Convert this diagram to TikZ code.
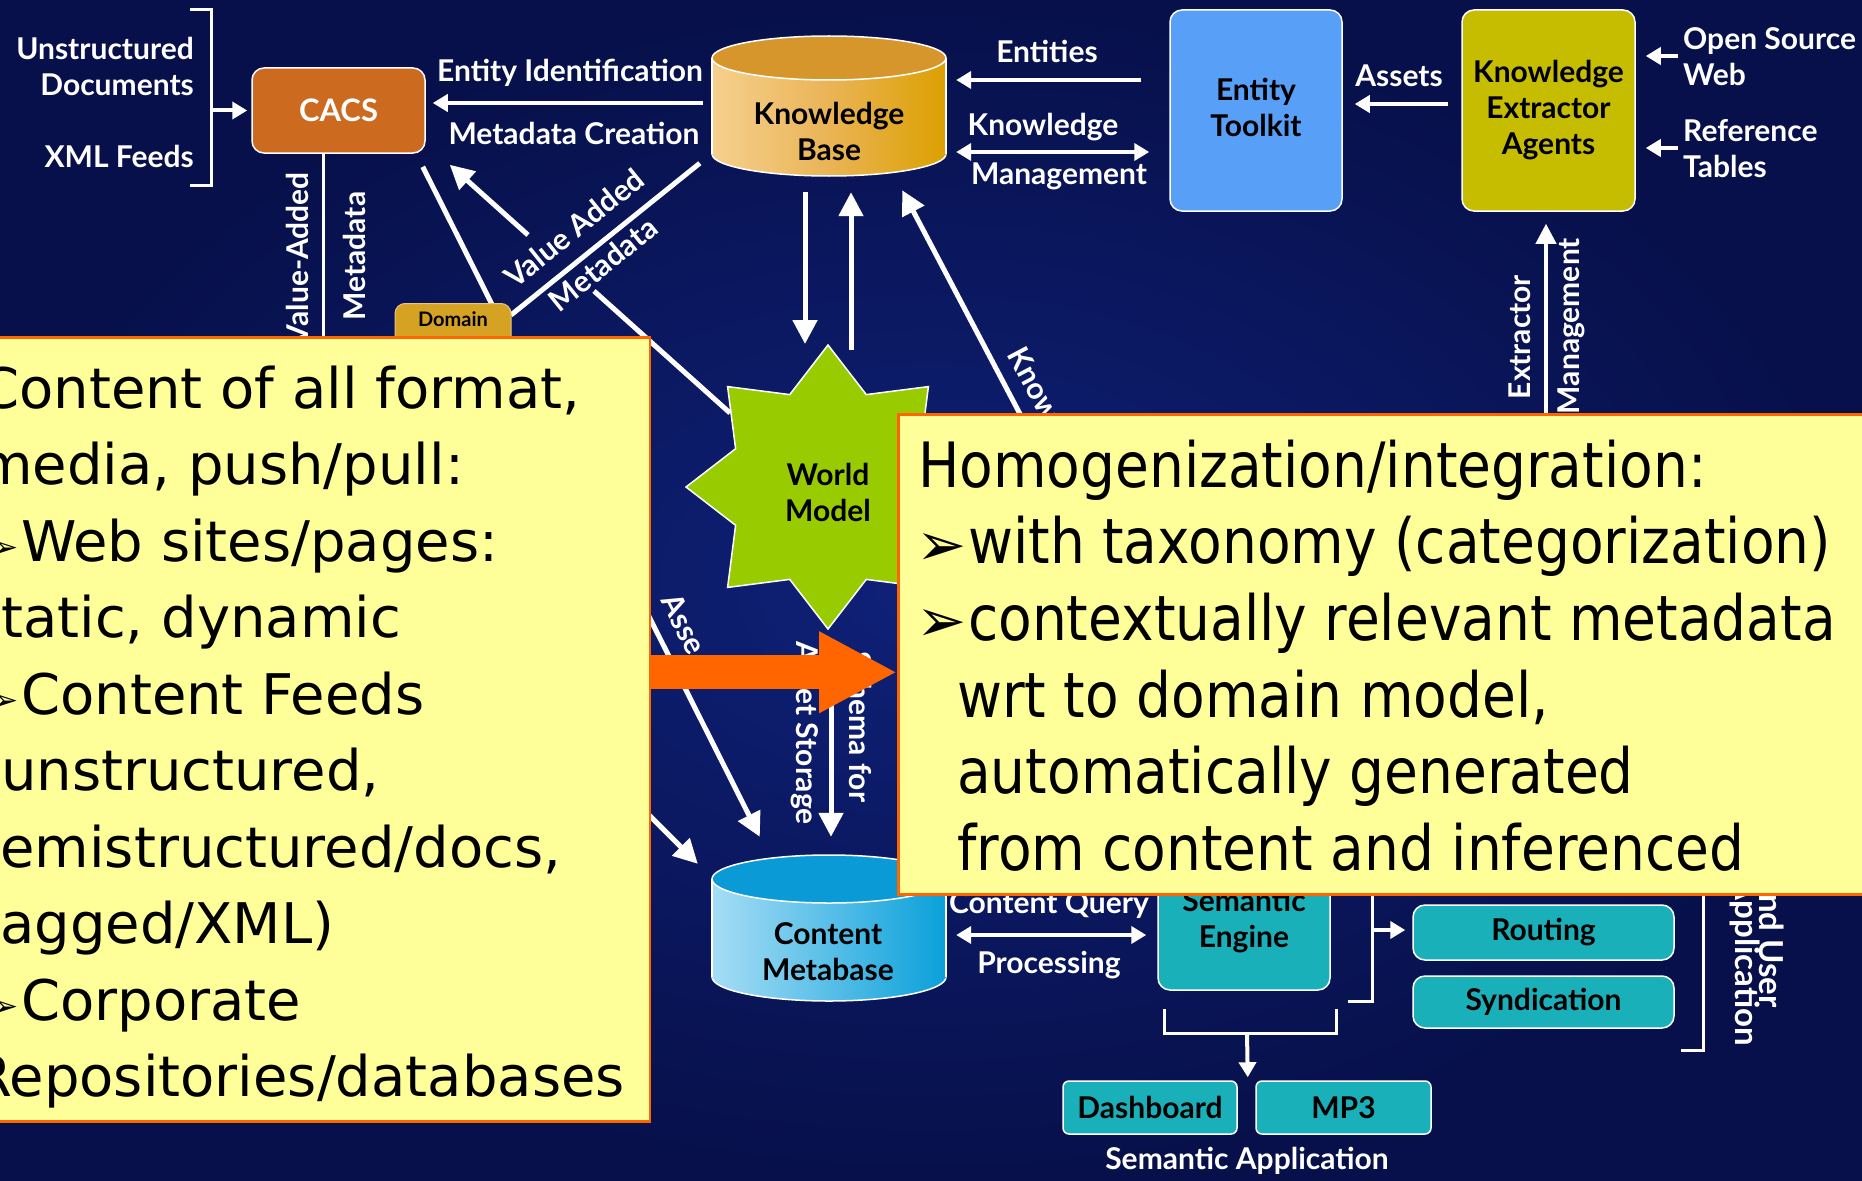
\documentclass[tikz,border=0pt]{standalone}
\usepackage{fontspec}
\setmainfont{DejaVu Sans}
\newfontfamily\gill{Lato}
\newfontfamily\verd{DejaVu Sans}
\newfontfamily\tah{DejaVu Sans}[FakeStretch=0.88]
\usetikzlibrary{shapes.geometric,arrows.meta,calc}
\definecolor{bgin}{HTML}{0F2178}
\definecolor{bgout}{HTML}{07104A}
\definecolor{cacsor}{HTML}{CC6A20}
\definecolor{kbl}{HTML}{F6D08E}
\definecolor{kbm}{HTML}{EAB456}
\definecolor{kbr}{HTML}{DCA000}
\definecolor{kbtop}{HTML}{D6962C}
\definecolor{etblue}{HTML}{589FF8}
\definecolor{keay}{HTML}{C6BC00}
\definecolor{domg}{HTML}{D6A224}
\definecolor{wmg}{HTML}{99CC00}
\definecolor{cml}{HTML}{A6DDF5}
\definecolor{cmr}{HTML}{0AA0DA}
\definecolor{cmtop}{HTML}{0A9AD5}
\definecolor{tealbox}{HTML}{1AB0BA}
\definecolor{noteY}{HTML}{FFFF99}
\definecolor{noteO}{HTML}{FF6600}
\begin{document}
\begin{tikzpicture}[x=1pt,y=-1pt,
  lbl/.style={font=\gill\bfseries\fontsize{30}{36}\selectfont, text=white, align=center, inner sep=0pt},
  blk/.style={lbl, text=black},
  arr/.style={draw=white, line width=5pt, -{Triangle[length=24pt,width=24pt]}},
  marr/.style={draw=white, line width=4pt, -{Triangle[length=20pt,width=20pt]}},
  sarr/.style={draw=white, line width=4pt, -{Triangle[length=15pt,width=17pt]}},
  dsarr/.style={draw=white, line width=4pt, {Triangle[length=15pt,width=17pt]}-{Triangle[length=15pt,width=17pt]}},
  wline/.style={draw=white, line width=5pt},
  tline/.style={draw=white, line width=3pt},
  rbox/.style={rounded corners=12pt, draw=white, line width=1.5pt},
  note/.style={fill=noteY, draw=noteO, line width=2.5pt, inner sep=0pt},
  ltxt/.style={font=\verd\fontsize{56}{77}\selectfont, text=black, inner sep=0pt, anchor=base west},
  lbul/.style={font=\verd\fontsize{30}{30}\selectfont, text=black, inner sep=0pt, anchor=base east},
  rtxt/.style={font=\tah\fontsize{62.5}{77}\selectfont, text=black, inner sep=0pt, anchor=base west},
  rbul/.style={font=\verd\bfseries\fontsize{60}{60}\selectfont, text=black, inner sep=0pt, anchor=base west},
  orarr/.style={draw=noteO, line width=34pt, -{Triangle[length=78pt,width=76pt]}}
]
\useasboundingbox (0,0) rectangle (1862,1180);
\shade[inner color=bgin, outer color=bgout] (-2,-2) rectangle (1864,1182);

% ---------- input bracket ----------
\node[lbl, anchor=east, align=right] (ud) at (194,66) {Unstructured\\Documents};
\node[lbl, anchor=east] (xml) at (194,156) {XML Feeds};
\draw[tline] (190,10) -- (211,10) -- (211,185) -- (190,185);
\coordinate (brk) at (211,110.5);

% ---------- CACS ----------
\node[rbox, fill=cacsor, minimum width=173pt, minimum height=85pt, lbl, font=\gill\bfseries\fontsize{31}{36}\selectfont] (cacs) at (338.5,110.5) {CACS};
\draw[sarr] (brk) -- ([xshift=-4pt]cacs.west);

% ---------- Knowledge Base cylinder ----------
\shade[draw=white, line width=1.5pt, left color=kbl, right color=kbr, middle color=kbm] (829,154) ellipse [x radius=117, y radius=22];
\shade[left color=kbl, right color=kbr, middle color=kbm] (712,58) rectangle (946,154);
\draw[white, line width=1.5pt] (712,58) -- (712,154) (946,58) -- (946,154);
\draw[white, line width=1.5pt, fill=kbtop] (829,58) ellipse [x radius=117, y radius=22];
\node[minimum width=234pt, minimum height=140pt, inner sep=0pt] (kb) at (829,106) {};
\node[blk] at (829,131) {Knowledge\\Base};

% ---------- Entity Toolkit, KEA ----------
\node[rbox, fill=etblue, minimum width=172pt, minimum height=201pt] (et) at (1256,110.5) {};
\node[blk] at (1256,107) {Entity\\Toolkit};
\node[rbox, fill=keay, minimum width=173pt, minimum height=201pt] (kea) at (1548.5,110.5) {};
\node[blk] at (1548.5,110) {Knowledge\\Extractor\\Agents};

\node[lbl, anchor=west, align=left] (osw) at (1683,57) {Open Source\\Web};
\node[lbl, anchor=west, align=left] (reft) at (1683,148.5) {Reference\\Tables};
\draw[sarr] ($(osw.west)+(-5,-1)$) -- ($(kea.east)+(10,-54.5)$);
\draw[sarr] ($(reft.west)+(-5,-0.5)$) -- ($(kea.east)+(10,37.5)$);

% top connectors
\draw[sarr] ($(kb.west)+(-9,-3)$) -- ($(cacs.east)+(7,-7.5)$);
\node[lbl] at (570,73) {Entity Identification};
\node[lbl] at (574,133) {Metadata Creation};
\draw[sarr] ($(et.west)+(-28,-30.5)$) -- ($(kb.east)+(10,-26)$);
\node[lbl] at (1047,51) {Entities};
\draw[dsarr] ($(kb.east)+(10,46)$) -- ($(et.west)+(-20,41.5)$);
\node[lbl] at (1043,127) {Knowledge};
\node[lbl] at (1059,176) {Management};
\draw[sarr] ($(kea.west)+(-13,-6.5)$) -- ($(et.east)+(12,-6.5)$);
\node[lbl] at (1399,76) {Assets};

% extractor management
\coordinate (exm) at (1546,440);
\draw[marr] (exm) -- ($(kea.south)+(-2.5,12)$);
\node[lbl, rotate=90] at (1520,337) {Extractor};
\node[lbl, rotate=90, anchor=east] at (1571,238) {Management};

% CACS vertical metadata line
\coordinate (cv) at (323,360);
\draw[tline] ($(cacs.south)+(-15.5,0)$) -- (cv);
\node[lbl, rotate=90, anchor=east] at (297,172) {Value-Added};
\node[lbl, rotate=90] at (354,256) {Metadata};

% ---------- World Model ----------
\node[star, star points=8, star point ratio=1.42, minimum size=284pt, inner sep=0pt, fill=wmg, draw=white, line width=1.5pt] (wm) at (828,487) {};
\node[blk] at (828,492) {World\\Model};

% ---------- Content Metabase cylinder ----------
\shade[draw=white, line width=1.5pt, left color=cml, right color=cmr] (829,977) ellipse [x radius=117, y radius=24];
\shade[left color=cml, right color=cmr] (712,879) rectangle (946,977);
\draw[white, line width=1.5pt] (712,879) -- (712,977) (946,879) -- (946,977);
\draw[white, line width=1.5pt, fill=cmtop] (829,879) ellipse [x radius=117, y radius=24];
\node[minimum width=234pt, minimum height=146pt, inner sep=0pt] (cm) at (829,928) {};
\node[blk] at (828,952) {Content\\Metabase};

% diagonal connectors
\draw[arr] ($(cacs.south east)+(-3,13)$) -- ($(cm.north west)+(48,-18)$);
\node[lbl, rotate=-63] at (684,624) {Asse};
\draw[wline] ($(kb.south west)+(-12,-13)$) -- (511,315);
\node[lbl, rotate=39] at (574,228) {Value Added};
\node[lbl, rotate=39] at (603,264) {Metadata};
\coordinate (vam1) at (594,291);
\coordinate (vam2) at (528,235);
\draw[wline] ($(wm)+(-98,-74)$) -- (vam1);
\draw[arr] (vam2) -- ($(cacs.south east)+(24,11)$);

% Domain box
\node[rounded corners=10pt, fill=domg, draw=domg!60!white, line width=1pt, minimum width=116pt, minimum height=70pt, anchor=north] (dom) at (453,303) {};
\node[blk, font=\gill\bfseries\fontsize{20}{24}\selectfont] at (453,319) {Domain};

% KB <-> WM
\draw[arr] ($(kb.south)+(-24,16)$) -- ($(wm)+(-23,-143)$);
\draw[arr] ($(wm)+(23,-137)$) -- ($(kb.south)+(22,16)$);
\coordinate (kn0) at (1030,433);
\draw[arr] (kn0) -- ($(kb.south east)+(-44,14)$);
\node[lbl, rotate=-62, anchor=west] at (1014,350) {Knowledge};

% WM -> CM
\draw[arr] ($(wm)+(3,154)$) -- ($(cm.north)+(2,-18)$);
\node[lbl, rotate=-90] at (861,727) {Schema for};
\node[lbl, rotate=-90] at (805,733) {Asset Storage};
\coordinate (lf0) at (580,746);
\draw[arr] (lf0) -- ($(cm.north west)+(-14,9)$);

% ---------- Semantic Engine etc ----------
\node[rbox, fill=tealbox, minimum width=172pt, minimum height=130pt] (se) at (1244,925) {};
\node[blk] at (1244,921) {Semantic\\Engine};
\draw[dsarr] ($(cm.east)+(10,7)$) -- ($(se.west)+(-11,10)$);
\node[lbl] at (1049,905) {Content Query};
\node[lbl] at (1049,965) {Processing};

\node[rbox, fill=tealbox, minimum width=261pt, minimum height=55pt, blk] (rout) at (1543.5,932.5) {Routing};
\node[rbox, fill=tealbox, minimum width=261pt, minimum height=52pt, blk] (synd) at (1543.5,1002) {Syndication};
\draw[tline] (1372,870) -- (1372,1001) -- (1348,1001);
\coordinate (br2) at (1372,930);
\draw[sarr] (br2) -- ($(rout.west)+(-7,-2.5)$);
\draw[tline] (1703,870) -- (1703,1050) -- (1681,1050);
\node[lbl, rotate=-90, anchor=east, font=\gill\bfseries\fontsize{33}{36}\selectfont] at (1772,1008) {End User};
\node[lbl, rotate=-90, anchor=east, font=\gill\bfseries\fontsize{33}{36}\selectfont] at (1745,1046) {Application};

\draw[tline] (1164,1009) -- (1164,1033) -- (1336,1033) -- (1336,1009);
\coordinate (br3) at (1247,1033);
\node[rbox, rounded corners=6pt, fill=tealbox, minimum width=174pt, minimum height=53pt, blk] (dash) at (1150,1107.5) {Dashboard};
\node[rbox, rounded corners=6pt, fill=tealbox, minimum width=175pt, minimum height=53pt, blk] (mp3) at (1343.5,1107.5) {MP3};
\draw[sarr] (br3) -- ($(dash.north east)+(10,-3)$);
\node[lbl] at (1247,1161) {Semantic Application};

% ---------- callout boxes ----------
\node[note, anchor=north east, minimum width=665pt, minimum height=784pt] (lnote) at (651,336) {};
\node[ltxt] at (-20,408) {Content of all format,};
\node[ltxt] at (-22,484.5) {media, push/pull:};
\node[lbul] at (19,557) {➢};
\node[ltxt] at (21,561) {Web sites/pages:};
\node[ltxt] at (-28,637.5) {static, dynamic};
\node[lbul] at (19,710) {➢};
\node[ltxt] at (21,714) {Content Feeds};
\node[ltxt] at (-21,790.5) {(unstructured,};
\node[ltxt] at (-29,867) {semistructured/docs,};
\node[ltxt] at (-22,943.5) {tagged/XML)};
\node[lbul] at (19,1016) {➢};
\node[ltxt] at (21,1020) {Corporate};
\node[ltxt] at (-27,1096.5) {Repositories/databases};

\node[note, anchor=north west, minimum width=980pt, minimum height=480pt] (rnote) at (897,413) {};
\node[rtxt] at (918,487) {Homogenization/integration:};
\node[rbul] at (916,565) {➢};
\node[rtxt] at (968,563.7) {with taxonomy (categorization)};
\node[rbul] at (916,641.7) {➢};
\node[rtxt] at (968,640.4) {contextually relevant metadata};
\node[rtxt] at (957,717) {wrt to domain model,};
\node[rtxt] at (957,793.8) {automatically generated};
\node[rtxt] at (957,870.5) {from content and inferenced};

\draw[orarr] ($(lnote.east)+(0,-57)$) -- ($(rnote.west)+(0,18)$);
\end{tikzpicture}
\end{document}
